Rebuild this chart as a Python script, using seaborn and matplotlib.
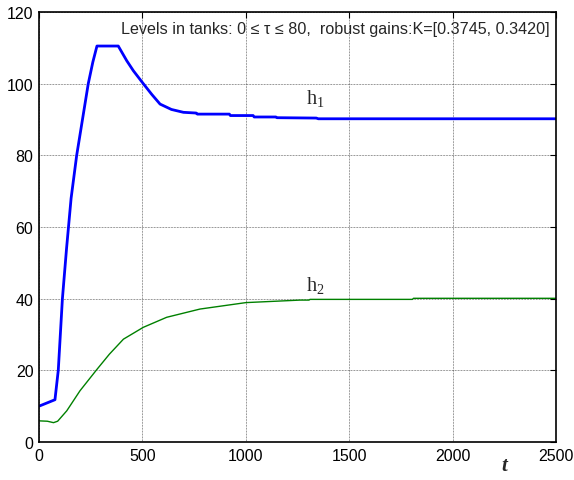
import matplotlib
matplotlib.use("Agg")
import matplotlib.pyplot as plt
import seaborn as sns
import pandas as pd

# Tank levels
t_h1 = [0, 77, 93, 113, 133, 155, 182, 210, 238, 260, 280, 383, 424, 456, 504,
        545, 585, 640, 698, 760, 765, 920, 925, 1035, 1040, 1145, 1150, 1340,
        1350, 2500]
h1 = [10, 11.8, 20, 40, 54, 68, 80, 90, 100, 106, 110.5, 110.5, 106.4, 103.6, 100,
      97, 94.3, 92.8, 92.0, 91.8, 91.5, 91.5, 91.1, 91.1, 90.7, 90.7, 90.5, 90.4,
      90.2, 90.2]

t_h2 = [0, 40, 70, 90, 134, 198, 279, 340, 408, 504, 617, 778, 1000, 1262,
        1305, 1310, 1805, 1810, 2500]
h2 = [5.9, 5.8, 5.4, 5.8, 8.7, 14.3, 20.2, 24.5, 28.7, 32.0, 34.8, 37.1, 38.9,
      39.6, 39.6, 39.8, 39.8, 40.1, 40.1]

title_txt = "Levels in tanks: 0 \u2264 \u03c4 \u2264 80,  robust gains:K=[0.3745, 0.3420]"

sns.set_style("white")
plt.rcParams["font.family"] = ["Liberation Sans", "DejaVu Sans"]

df1 = pd.DataFrame({"t": t_h1, "h": h1})
df2 = pd.DataFrame({"t": t_h2, "h": h2})

fig = plt.figure(figsize=(5.74, 4.81), dpi=100)
ax = fig.add_axes([0.068, 0.079, 0.901, 0.894])

sns.lineplot(data=df1, x="t", y="h", color="#0000ff", linewidth=2.0, ax=ax)
sns.lineplot(data=df2, x="t", y="h", color="#008000", linewidth=1.0, ax=ax)

ax.set_xlim(0, 2500)
ax.set_ylim(0, 120)
ax.set_xticks([0, 500, 1000, 1500, 2000, 2500])
ax.set_yticks([0, 20, 40, 60, 80, 100, 120])
ax.grid(True, color="#333333", linestyle=(0, (1, 1.2)), linewidth=0.5)
ax.tick_params(direction="in", top=True, right=True, length=4, labelsize=11.5,
               colors="black", pad=4)
for s in ax.spines.values():
    s.set_color("black")
    s.set_linewidth(1.2)

ax.set_xlabel("")
ax.set_ylabel("")

ax.text(2470, 117.5, title_txt, ha="right", va="top", fontsize=11.6,
        family=["Liberation Sans", "DejaVu Sans"])
ax.text(1290, 96, r"$\mathregular{h_1}$", fontsize=14.5, family="Liberation Serif",
        va="center")
ax.text(1290, 44, r"$\mathregular{h_2}$", fontsize=14.5, family="Liberation Serif",
        va="center")
ax.text(2250, -6.5, "t", fontsize=15, family="Liberation Serif", fontweight="bold",
        fontstyle="italic", ha="center", va="center", clip_on=False)

fig.savefig("out.png", dpi=100)
